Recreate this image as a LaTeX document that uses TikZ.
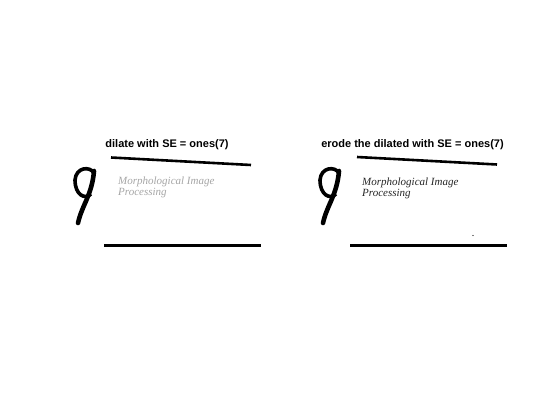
\documentclass[tikz,border=0pt]{standalone}
\usepackage{fontspec}
\setmainfont{Liberation Serif}
\newfontfamily\helv{Liberation Sans}
\begin{document}
\begin{tikzpicture}[x=1pt,y=-1pt,
  ttl/.style={font=\helv\bfseries\fontsize{11}{13}\selectfont, inner sep=0pt},
  body/.style={font=\itshape\fontsize{11}{11}\selectfont, inner sep=0pt, anchor=base west, align=left},
  bar/.style={line width=3pt},
  nine/.pic={
    \draw[line width=4.6pt, line cap=round] (22,3) .. controls (20,27) and (10,37) .. (6,55);
    \draw[line width=3.6pt] (22,5) .. controls (18,-2) and (4,-1) .. (3,12) .. controls (3,27) and (13,32) .. (19,26);
  }]
\useasboundingbox[fill=white] (0,0) rectangle (560,420);
% left panel
\node[ttl] (tl) at (167,145) {dilate with SE = ones(7)};
\draw[line width=2.6pt] (111,157.5) -- (251,165);
\draw[bar] (104,245) -- (261,245);
\pic at (72,168) {nine};
\node[body, text=black!35] (txl) at (118,195) {Morphological Image\\Processing};
% right panel
\node[ttl] (tr) at (412.5,145) {erode the dilated with SE = ones(7)};
\draw[line width=2.6pt] (357,157) -- (497,164.5);
\draw[bar] (350,245) -- (507,245);
\pic at (317,168) {nine};
\node[body, text=black!85] (txr) at (362,196) {Morphological Image\\Processing};
\fill (473,235.5) circle (0.7);
\end{tikzpicture}
\end{document}
